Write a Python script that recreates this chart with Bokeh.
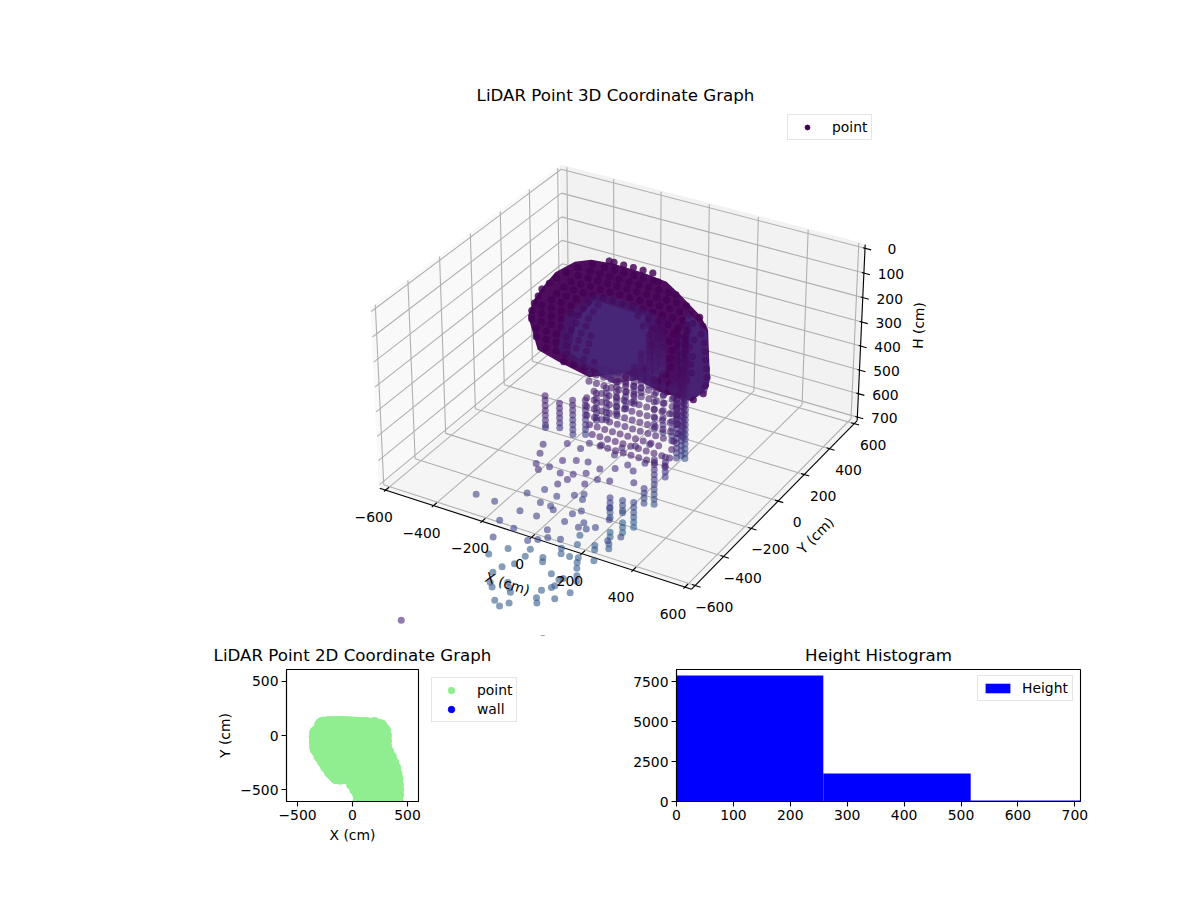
import numpy as np
from bokeh.plotting import figure
from bokeh.layouts import column, row
from bokeh.models import Range1d, Legend, LegendItem, FixedTicker, ColumnDataSource
from bokeh.palettes import Viridis256
from bokeh.core.properties import value
from bokeh.embed import file_html
from bokeh.resources import INLINE

FONT = "DejaVu Sans"

# ---------- data ----------
axis_ticks = [-600, -400, -200, 0, 200, 400, 600]
axis_tick_labels = ["\u2212600", "\u2212400", "\u2212200", "0", "200", "400", "600"]
height_ticks = [0, 100, 200, 300, 400, 500, 600, 700]

# upper cloud: rows of constant y
roof_y = [300, 250, 200, 150, 100, 50, 0, -50, -100, -150, -200, -250, -300, -350, -400]
roof_h = [130, 130, 130, 130, 130, 130, 130, 130, 130, 130, 130, 130, 130, 130, 130]
roof_x = [
    [-230, -210, -170, -130, -90, -50],
    [-270, -220, -180, -140, -100, -60, -20, 0],
    [-300, -250, -210, -170, -130, -90, -50, -10, 30, 70, 100],
    [-320, -270, -230, -190, -150, -110, -70, -30, 10, 50, 90, 130, 170],
    [-330, -270, -230, -190, -150, -110, -70, -30, 10, 50, 90, 130, 170, 210, 250],
    [-330, -270, -230, -190, -150, -110, -70, -30, 10, 50, 90, 130, 170, 210, 250, 290],
    [-330, -270, -230, -190, -140, -100, 60, 100, 140, 180, 220, 260, 310],
    [-315, -260, -220, -180, -130, -90, 110, 150, 190, 230, 270, 310, 350],
    [-300, -270, -230, -190, -150, -120, -80, 160, 200, 240, 280, 320, 380],
    [-280, -240, -200, -160, -100, -60, 200, 240, 280, 320, 360, 410],
    [-250, -210, -170, -130, -90, -50, -10, 220, 260, 300, 340, 380, 440],
    [-200, -160, -120, -80, -30, 10, 250, 290, 330, 370, 410, 470],
    [-170, -130, -90, -50, -10, 30, 260, 300, 340, 380, 420, 490],
    [-100, -60, -20, 50, 90, 300, 340, 380, 420, 510],
    [0, 40, 80, 120, 400, 440, 500],
]
# lower cloud: rows of constant y
floor_y = [-50, -100, -150, -200, -250, -300, -350, -400, -450, -500]
floor_h = [350, 350, 350, 350, 350, 350, 350, 350, 350, 350]
floor_x = [
    [-110, -80, -50, -20, 10, 40, 70, 100, 130, 160, 190, 220, 240],
    [-80, -50, -20, 10, 40, 70, 100, 130, 160, 190, 220, 260],
    [-50, -20, 10, 40, 70, 100, 130, 160, 190, 220, 250, 300],
    [0, 30, 60, 90, 120, 150, 180, 210, 240, 270, 300, 330],
    [0, 30, 60, 90, 120, 150, 180, 210, 240, 270, 300, 330, 360],
    [30, 60, 90, 120, 150, 180, 210, 240, 270, 300, 330, 360, 390],
    [60, 90, 120, 150, 180, 210, 240, 270, 300, 330, 360, 400],
    [100, 130, 160, 190, 220, 250, 280, 310, 340, 370, 420],
    [140, 170, 200, 230, 260, 290, 320, 350, 380, 410, 440],
    [200, 230, 260, 290, 320, 350, 380, 410, 450],
]

# vertical runs of returns on the walls
col_x = [-132, -88, -59, -38, 5, 34, 61, 87, 96, 88, 85, 84, 87, 312, 273, 243, 329, 339, 371, 314,
         280, 260, 300, 320, 230, 260, 200]
col_y = [-310, -287, -247, -196, -193, -174, -150, -132, -88, -24, 35, 89, 129, -467, -475, -508, -426, -374, -355, -173,
         -50, -80, -100, -150, -120, -110, -130]
col_h = [
    [350, 370, 390, 410, 430, 450, 470, 480],
    [380, 400, 420, 440, 460, 480],
    [380, 400, 420, 440, 460, 480, 500, 520],
    [400, 420, 440, 460, 480, 500, 520, 540],
    [360, 380, 400, 420, 440, 460, 470],
    [340, 360, 380, 400, 420, 440, 460, 470],
    [320, 340, 360, 380, 400, 420, 440, 450],
    [300, 320, 340, 360, 380, 400, 420, 430],
    [280, 300, 320, 340, 360, 380, 400, 420, 430],
    [260, 280, 300, 320, 340, 360, 380, 400, 420],
    [240, 260, 280, 300, 320, 340, 360, 380, 400, 420],
    [220, 240, 260, 280, 300, 320, 340, 360, 380, 400, 410],
    [200, 220, 240, 260, 280, 300, 320, 340, 360, 380, 400, 410],
    [560, 580, 600, 620, 640, 660],
    [560, 580, 600, 610, 650, 670, 690],
    [540, 560, 580, 600, 620, 680, 700],
    [520, 540, 560, 580],
    [430, 450, 470, 490, 510, 530, 550, 570, 590, 610],
    [420, 440, 460, 480, 500],
    [300, 320, 340, 360, 380, 400, 420, 440, 460, 480, 500, 520, 540],
    [80, 100, 120, 140, 160, 180, 200, 220, 240, 260, 280, 300, 320, 340, 360, 380, 400, 420, 440, 460, 480, 500, 520, 540, 560, 580, 600, 620],
    [90, 110, 130, 150, 170, 190, 210, 230, 250, 270, 290, 310, 330, 350, 370, 390, 410, 430, 450, 470],
    [100, 120, 140, 160, 180, 200, 220, 240, 260, 280, 300, 320, 340, 360, 380, 400, 420, 440, 460, 480, 500],
    [200, 220, 240, 260, 280, 300, 320, 340, 360, 380, 400, 420, 440, 460, 480, 500, 520, 540],
    [250, 280, 310, 340, 370, 400, 430, 460, 490],
    [260, 290, 320, 350, 380, 410, 440, 470, 500, 520],
    [280, 310, 340, 370, 400, 430, 460, 480],
]

# isolated returns, lower part of the cloud
low_x = [-35, -56, -12, 14, 38, 90, 132, 118, 132, 166, 197, 219, 260, 236, 297, 335, 56, 96, 136, 193, 191, 262, 307, 78, 120, 190, 225, 261, 13, 69,
         -170, -92, -24, 13, -15, 51, 20, 78, 46, 16, 74, 87, 107, 122, 160, 148, 176, 193, 177, 153, 179, 156, 130, 221, 235, 237, 263, 285, 301, 266, 387, 361,
         299, 313, 262, 275, 306, 187, 208, 173, 189, 86, 93, 19, -20, 148, 161, 223, 252, 263, 279, 86, 59, 223, 262, 271, 302, 318,
         269, 265, 245, 334, 308, 253, 270, 191, 173, 142, 162, 146, 124, 50, 74, 94, 390, 145]
low_y = [-505, -450, -568, -596, -563, -579, -602, -642, -564, -536, -597, -551, -539, -461, -445, -507, -507, -483, -472, -490, -388, -421, -382, -365, -354, -336, -303, -269, -404, -409,
         -703, -709, -610, -716, -800, -817, -897, -715, -638, -561, -577, -639, -655, -541, -551, -520, -644, -614, -697, -769, -809, -835, -857, -797, -704, -672, -700, -677, -613, -551, -684, -726,
         -612, -637, -643, -666, -724, -615, -667, -713, -742, -771, -815, -805, -865, -792, -815, -743, -735, -761, -790, -872, -907, -861, -877, -865, -828, -857,
         -915, -930, -960, -925, -980, -1005, -1030, -1075, -1105, -1085, -1020, -1000, -975, -950, -1005, -1025, -1190, -1624]
low_h = [450] * 30 + [550] * 32 + [650] * 43 + [400]

# outline of the densest part of the cloud, and its paler inner zones
edge_x = [-272, -313, -335, -353, -334, -291, -205, -80, 24, 119, 250, 318, 471, 503, 501, 379, 215, 127, -17, -119]
edge_y = [-188, -84, 13, 130, 234, 276, 290, 285, 268, 203, 108, 36, -233, -299, -411, -412, -361, -446, -408, -374]
edge_h = [130] * 20
mid_x = [-150, -40, 110, 300, 320, 220, 60, -60, -160]
mid_y = [60, 80, 40, -240, -330, -440, -400, -340, -130]
mid_h = [130] * 9
core_x = [-126, 83, 269, 179, -11, -110]
core_y = [23, 14, -263, -416, -336, -139]
core_h = [130] * 6
lobe_x = [191, 322, 479, 516, 478, 275]
lobe_y = [117, 22, -246, -335, -441, -89]
lobe_h = [130] * 6

# 2D footprint
plan_rows_y = [110, 30, -50, -130, -210, -290, -370, -450, -530, -600]
plan_rows_x = [
    [-280, -200, -120, -40, 40, 120, 200],
    [-335, -260, -180, -100, -20, 60, 140, 220, 280],
    [-335, -260, -180, -100, -20, 60, 140, 220, 280],
    [-330, -250, -170, -90, -10, 70, 150, 230, 290],
    [-280, -200, -120, -40, 40, 120, 200, 280, 320],
    [-230, -150, -70, 10, 90, 170, 250, 330, 360],
    [-170, -90, -10, 70, 150, 230, 310, 385],
    [20, 80, 160, 240, 320, 395],
    [65, 135, 215, 295, 395],
    [70, 150, 230, 310, 395],
]
plan_edge_x = [-290, -260, -220, -180, -140, -100, -60, -20, 20, 60, 100, 140, 180, 220, 260,
               290, 300, 300, 300, 320, 345, 365, 385, 395, 405, 408, 410, 410, 405,
               -300, -320, -340, -338, -335, -310, -295, -265, -235, -200, -150, -110, -70, -25, 0, 30, 55, 60]
plan_edge_y = [100, 115, 120, 120, 122, 122, 120, 118, 115, 112, 110, 108, 105, 100, 90,
               50, 0, -50, -100, -150, -200, -250, -300, -350, -400, -450, -500, -550, -600,
               60, 20, -10, -60, -105, -150, -195, -240, -290, -340, -390, -395, -390, -400, -450, -500, -540, -600]
plan_ticks = [-500, 0, 500]
plan_tick_labels = ["\u2212500", "0", "500"]

# histogram
hist_edges = [0, 258, 517, 775]
hist_counts = [7875, 1750, 70]
hist_xticks = [0, 100, 200, 300, 400, 500, 600, 700]
hist_yticks = [0, 2500, 5000, 7500]

# ---------- 3D projection ----------
LIM = 625.0
HMIN, HMAX = -14.6, 714.6
box = np.array([4.0, 4.0, 2.3]) * 1.8294640721620434 * 25 / 24 / np.linalg.norm([4, 4, 3])
e, a = np.radians(30), np.radians(-60)
R = box / 2
w_ = np.array([np.cos(e) * np.cos(a), np.cos(e) * np.sin(a), np.sin(e)])
eye = R + 10 * w_
u_ = np.cross([0, 0, 1], w_); u_ /= np.linalg.norm(u_)
v_ = np.cross(w_, u_)


def raw(x, y, h):
    x, y, h = np.asarray(x, float), np.asarray(y, float), np.asarray(h, float)
    P = np.stack([(x + LIM) / (2 * LIM) * box[0], (y + LIM) / (2 * LIM) * box[1],
                  (HMAX - h) / (HMAX - HMIN) * box[2]], -1) - eye
    zz = -(P @ w_)
    return (P @ u_) / zz, (P @ v_) / zz, zz


# frame fit: box corners in the page
cx3 = [-LIM, LIM, LIM, -LIM, -LIM, LIM]
cy3 = [-LIM, -LIM, LIM, -LIM, LIM, LIM]
ch3 = [HMAX, HMAX, HMAX, HMIN, HMIN, HMIN]
page_x = [380, 692, 856, 370, 560, 865]
page_y = [487, 588, 422, 308, 165, 243]
_X, _Y, _ = raw(cx3, cy3, ch3)
fx = np.polyfit(_X, page_x, 1)
fy = np.polyfit(_Y, page_y, 1)


def proj(x, y, h):
    X, Y, _z = raw(x, y, h)
    return np.polyval(fx, X), np.polyval(fy, Y)


# ---------- 3D panel ----------
p = figure(width=1200, height=636, x_range=Range1d(0, 1200), y_range=Range1d(636, 0),
           x_axis_type=None, y_axis_type=None, output_backend="svg", toolbar_location=None, min_border=0)
p.outline_line_color = None
p.grid.visible = False


def pane(xs, ys, hs, color):
    sx, sy = proj(xs, ys, hs)
    p.patch(list(sx), list(sy), fill_color=color, line_color=color, line_width=2)


pane([-LIM, -LIM, -LIM, -LIM], [-LIM, LIM, LIM, -LIM], [HMAX, HMAX, HMIN, HMIN], "#f9f9f9")
pane([-LIM, LIM, LIM, -LIM], [LIM, LIM, LIM, LIM], [HMAX, HMAX, HMIN, HMIN], "#f2f2f2")
pane([-LIM, LIM, LIM, -LIM], [-LIM, -LIM, LIM, LIM], [HMAX, HMAX, HMAX, HMAX], "#f5f5f5")


def segs(a0, a1, color, width):
    xs, ys = [], []
    for s_, t in zip(a0, a1):
        x0, y0 = proj(*s_)
        x1, y1 = proj(*t)
        xs.append([float(x0), float(x1)])
        ys.append([float(y0), float(y1)])
    p.multi_line(xs, ys, line_color=color, line_width=width)


g0, g1 = [], []
for t in axis_ticks:
    g0 += [(t, -LIM, HMAX), (-LIM, t, HMAX)]
    g1 += [(t, LIM, HMAX), (LIM, t, HMAX)]
    g0 += [(t, LIM, HMAX), (-LIM, t, HMAX)]
    g1 += [(t, LIM, HMIN), (-LIM, t, HMIN)]
for t in height_ticks:
    g0 += [(-LIM, -LIM, t), (-LIM, LIM, t)]
    g1 += [(-LIM, LIM, t), (LIM, LIM, t)]
segs(g0, g1, "#b0b0b0", 1.1)

segs([(-LIM, -LIM, HMAX), (LIM, -LIM, HMAX), (LIM, LIM, HMAX)],
     [(LIM, -LIM, HMAX), (LIM, LIM, HMAX), (LIM, LIM, HMIN)], "black", 1.1)
t0, t1 = [], []
for t in axis_ticks:
    t0 += [(t, -LIM + 21, HMAX), (LIM - 12, t, HMAX)]
    t1 += [(t, -LIM - 11, HMAX), (LIM + 20, t, HMAX)]
for t in height_ticks:
    t0.append((LIM - 8, LIM, t))
    t1.append((LIM + 24, LIM, t))
segs(t0, t1, "black", 1.1)


def zone(xs, ys, hs, color, alpha):
    zx, zy = proj(xs, ys, hs)
    p.patch(list(zx), list(zy), fill_color=color, fill_alpha=alpha, line_color=None)


def expand_rows(ys, hs, xss):
    ox, oy, oh = [], [], []
    for yv, hv, xs in zip(ys, hs, xss):
        for xv in xs:
            ox.append(xv); oy.append(yv); oh.append(hv)
    return ox, oy, oh


def draw_cloud(xa, ya, ha, alpha):
    xa, ya, ha = np.array(xa, float), np.array(ya, float), np.array(ha, float)
    sx, sy = proj(xa, ya, ha)
    _, _, depth = raw(xa, ya, ha)
    order = np.argsort(-depth)
    shade = (np.clip(ha, 0, 700) / 700.0) ** 2 * 0.34
    colors = [Viridis256[int(s_ * 255)] for s_ in shade]
    src = ColumnDataSource(dict(sx=sx[order], sy=sy[order], c=[colors[i] for i in order]))
    p.scatter("sx", "sy", source=src, size=7, fill_color="c", line_color=None, fill_alpha=alpha)


zone(edge_x, edge_y, edge_h, "#440154", 0.95)
rx_, ry_, rh_ = expand_rows(roof_y, roof_h, roof_x)
draw_cloud(rx_, ry_, rh_, 0.7)
zone(mid_x, mid_y, mid_h, "#451a6c", 0.8)
zone(core_x, core_y, core_h, "#472a7a", 0.8)
zone(lobe_x, lobe_y, lobe_h, "#472a7a", 0.75)
draw_cloud(rx_, ry_, rh_, 0.4)

fx_, fy_, fh_ = expand_rows(floor_y, floor_h, floor_x)
cx2, cy2, ch2 = [], [], []
for xv, yv, hs in zip(col_x, col_y, col_h):
    for hv in hs:
        cx2.append(xv); cy2.append(yv); ch2.append(hv)
draw_cloud(fx_ + cx2 + low_x, fy_ + cy2 + low_y, fh_ + ch2 + low_h, 0.6)


def labels(xs, ys, txt, size="13.9px", angle=0.0, xo=0, yo=0):
    p.text(list(np.asarray(xs, float)), list(np.asarray(ys, float)), text=txt, text_font=value(FONT),
           text_font_size=size, text_color="black", text_align="center", text_baseline="middle",
           angle=angle, angle_units="deg", x_offset=xo, y_offset=yo)


tx, ty = proj(axis_ticks, [-LIM] * 7, [HMAX] * 7)
labels(tx, ty, axis_tick_labels, xo=-12, yo=27)
tx, ty = proj([LIM] * 7, axis_ticks, [HMAX] * 7)
labels(tx, ty, axis_tick_labels, xo=19, yo=21)
tx, ty = proj([LIM] * 8, [LIM] * 8, height_ticks)
labels(tx, ty, [str(t) for t in height_ticks], xo=27, yo=1)

labels([507], [583], ["X (cm)"], angle=-18)
labels([815], [535], ["Y (cm)"], angle=45)
labels([918], [325], ["H (cm)"], angle=88)
labels([615], [95], ["LiDAR Point 3D Coordinate Graph"], size="16.67px")

r_pt = p.scatter([-500], [-500], size=9, fill_color="#440154", line_color="#440154", marker="circle")
leg = Legend(items=[LegendItem(label="point", renderers=[r_pt])], location=(787, 496),
             padding=4, glyph_width=30, glyph_height=12, label_standoff=10, margin=0,
             label_text_font=FONT, label_text_font_size="13.9px", label_text_color="black",
             border_line_color="#cccccc", background_fill_alpha=0.8)
p.add_layout(leg)

# ---------- 2D panel ----------
q = figure(frame_width=132, frame_height=132, x_range=Range1d(-600, 600), y_range=Range1d(-610, 610),
           output_backend="svg", toolbar_location=None, min_border_left=286, min_border_right=0,
           min_border_top=33, min_border_bottom=60, title="LiDAR Point 2D Coordinate Graph")
qx, qy = [], []
for yv, xs in zip(plan_rows_y, plan_rows_x):
    qx += xs
    qy += [yv] * len(xs)
r_g = q.scatter(qx + plan_edge_x, qy + plan_edge_y, size=12, fill_color="#90ee90", line_color="#90ee90")
r_w = q.scatter([5000], [5000], size=11, fill_color="#0000ff", line_color="#0000ff")
q.grid.visible = False
q.xaxis.ticker = FixedTicker(ticks=plan_ticks)
q.yaxis.ticker = FixedTicker(ticks=plan_ticks)
q.xaxis.major_label_overrides = dict(zip(plan_ticks, plan_tick_labels))
q.yaxis.major_label_overrides = dict(zip(plan_ticks, plan_tick_labels))
q.xaxis.axis_label = "X (cm)"
q.yaxis.axis_label = "Y (cm)"
leg2 = Legend(items=[LegendItem(label="point", renderers=[r_g]), LegendItem(label="wall", renderers=[r_w])],
              location=(13, 79), padding=4, glyph_width=30, glyph_height=16, spacing=3, label_standoff=11, margin=0,
              label_text_font=FONT, label_text_font_size="13.9px", label_text_color="black",
              border_line_color="#cccccc", background_fill_alpha=0.8)
q.add_layout(leg2, "right")

# ---------- histogram ----------
s = figure(frame_width=404, frame_height=132, x_range=Range1d(0, 710), y_range=Range1d(0, 8250),
           output_backend="svg", toolbar_location=None, min_border_left=60, min_border_right=50,
           min_border_top=33, min_border_bottom=60, title="Height Histogram", margin=(0, 0, 0, -358))
r_h = s.quad(left=hist_edges[:-1], right=hist_edges[1:], bottom=0, top=hist_counts, fill_color="#0000ff", line_color=None)
s.grid.visible = False
s.xaxis.ticker = FixedTicker(ticks=hist_xticks)
s.yaxis.ticker = FixedTicker(ticks=hist_yticks)
leg3 = Legend(items=[LegendItem(label="Height", renderers=[r_h])], location=(301, 100), padding=4,
              glyph_width=31, glyph_height=12, label_standoff=9, margin=0,
              label_text_font=FONT, label_text_font_size="13.9px", label_text_color="black",
              border_line_color="#cccccc", background_fill_alpha=0.8)
s.add_layout(leg3)

for f in (q, s):
    f.outline_line_color = "black"
    f.outline_line_width = 1.1
    f.title.align = "center"
    f.title.text_font = FONT
    f.title.text_font_size = "16.67px"
    f.title.text_font_style = "normal"
    f.title.text_color = "black"
    for ax in (f.xaxis[0], f.yaxis[0]):
        ax.minor_tick_line_color = None
        ax.major_tick_out = 5
        ax.major_tick_in = 0
        ax.major_tick_line_color = "black"
        ax.major_tick_line_width = 1.1
        ax.axis_line_color = "black"
        ax.axis_line_width = 1.1
        ax.major_label_text_font = FONT
        ax.major_label_text_font_size = "13.9px"
        ax.major_label_text_color = "black"
        ax.major_label_standoff = 3
        ax.axis_label_text_font = FONT
        ax.axis_label_text_font_size = "13.9px"
        ax.axis_label_text_font_style = "normal"
        ax.axis_label_text_color = "black"
        ax.axis_label_standoff = 4

layout = column(p, row(q, s, spacing=0), spacing=0)
open("out.html", "w").write(file_html(layout, INLINE))
